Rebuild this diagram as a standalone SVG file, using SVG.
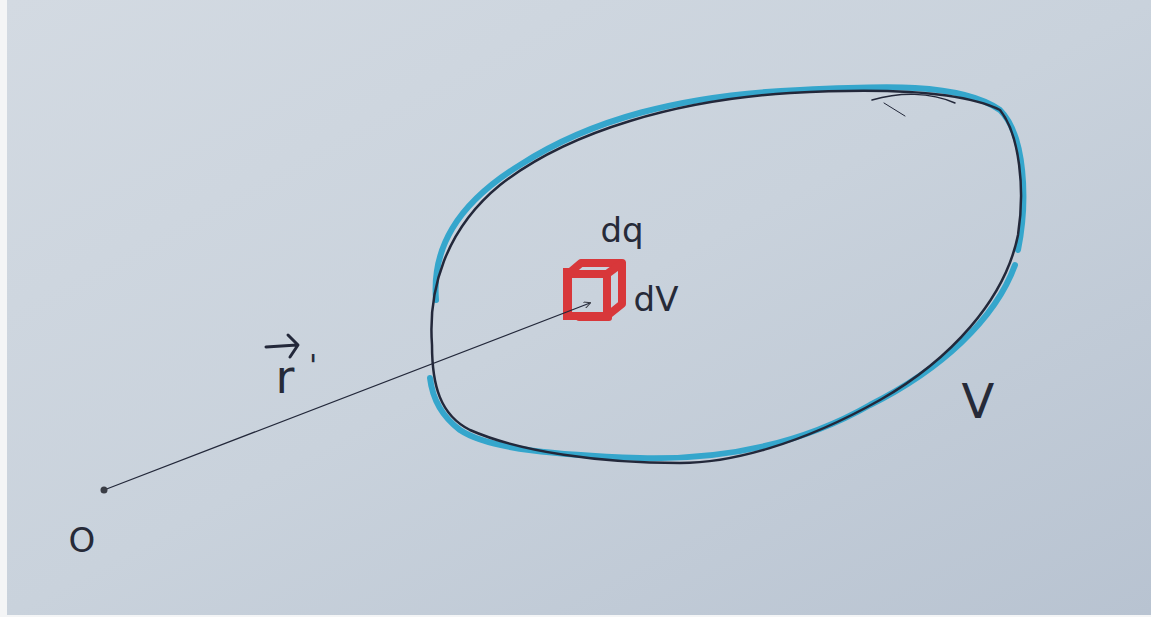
<svg xmlns="http://www.w3.org/2000/svg" width="1151" height="617" viewBox="0 0 1151 617">
<defs>
<linearGradient id="bg" x1="0" y1="0" x2="1" y2="1">
<stop offset="0" stop-color="#d3dae2"/>
<stop offset="0.5" stop-color="#c9d2dc"/>
<stop offset="1" stop-color="#b8c3d1"/>
</linearGradient>
<marker id="ah" viewBox="0 0 10 10" refX="9" refY="5" markerWidth="7" markerHeight="7" orient="auto" markerUnits="userSpaceOnUse">
<path d="M0,0 L10,5 L0,10" fill="none" stroke="#3a3d45" stroke-width="1.5"/>
</marker>
<style>
.ink{fill:none;stroke:#23283a;stroke-linecap:round;stroke-linejoin:round}
.blue{fill:none;stroke:#35a6cc;stroke-width:6;stroke-linecap:round;stroke-linejoin:round}
.red{fill:none;stroke:#d8373a;stroke-width:8;stroke-linejoin:round}
.lbl{font-family:"DejaVu Sans","Liberation Sans",sans-serif;fill:#262a38}
</style>
</defs>
<rect x="0" y="0" width="1151" height="617" fill="#f4f5f6"/>
<rect x="7" y="0" width="1144" height="615" fill="url(#bg)"/>
<g id="volume">
<path class="blue" d="M436,300 C432,250 455,205 520,165 C590,120 680,95 800,90 C880,86 960,82 1000,110 C1025,135 1028,200 1018,250"/>
<path class="blue" d="M1015,265 C995,320 940,370 870,405 C800,445 720,460 640,458 C560,455 490,450 460,430 C440,415 432,395 430,378"/>
<path class="ink" stroke-width="2.5" d="M432,345 C428,290 445,230 500,185 C570,130 680,100 790,93 C880,88 960,90 1000,110 C1020,135 1025,190 1018,235 C1005,300 950,360 880,400 C800,445 730,463 680,463 C600,463 520,452 470,430 C440,415 432,385 432,345 Z"/>
<path class="ink" stroke-width="1.5" d="M872,100 C900,92 930,92 955,103"/>
<path class="ink" stroke-width="1" d="M884,103 L905,116"/>
</g>
<g id="element">
<path class="red" d="M568,274 L607,274 L607,316 L568,316 Z"/>
<path class="red" d="M568,274 L581,263 L622,263 L622,304 L607,316"/>
<path class="red" d="M607,274 L622,263"/>
<rect x="563" y="268" width="8" height="52" fill="#d8373a"/>
<rect x="576" y="312" width="36" height="9" rx="3" fill="#d8373a"/>
<rect x="618" y="262" width="8" height="42" fill="#d8373a"/>
</g>
<g id="connectors">
<line class="ink" stroke-width="1.2" x1="104" y1="490" x2="590" y2="303" stroke="#3a3d45" marker-end="url(#ah)"/>
</g>
<g id="origin">
<circle cx="104" cy="490" r="3.5" fill="#3a3d45"/>
<text class="lbl" x="82" y="552" font-size="34" text-anchor="middle">O</text>
</g>
<g id="rprime">
<text class="lbl" x="285" y="393" font-size="46" text-anchor="middle">r</text>
<text class="lbl" x="313" y="376" font-size="30" text-anchor="middle">'</text>
<path class="ink" stroke-width="3" d="M266,347 L297,345 M288,335 L298,345 L290,357"/>
</g>
<g id="labels">
<text class="lbl" x="622" y="242" font-size="34" text-anchor="middle">dq</text>
<text class="lbl" x="656" y="311" font-size="34" text-anchor="middle">dV</text>
<text class="lbl" x="978" y="418" font-size="48" text-anchor="middle">V</text>
</g>
</svg>
